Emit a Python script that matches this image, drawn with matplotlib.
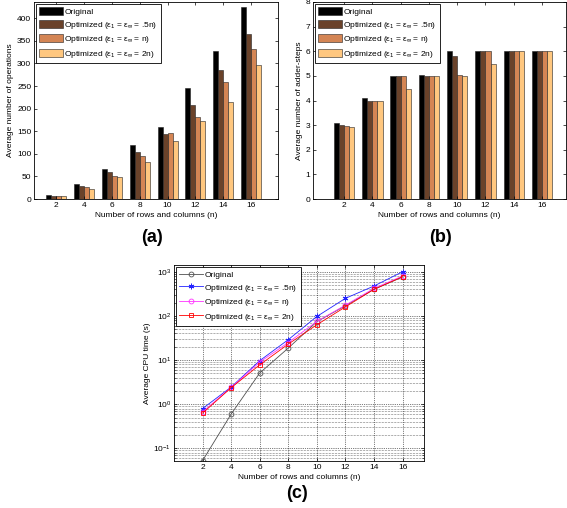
import matplotlib
matplotlib.use('Agg')
import matplotlib.pyplot as plt
import numpy as np

plt.rcParams['font.family'] = ['Liberation Sans', 'DejaVu Sans']
plt.rcParams['mathtext.fontset'] = 'custom'
plt.rcParams['mathtext.rm'] = 'Liberation Sans'
plt.rcParams['mathtext.it'] = 'Liberation Sans'

sizes = [2, 4, 6, 8, 10, 12, 14, 16]
series = ['Original',
          r'Optimized ($\varepsilon_1$ = $\varepsilon_\infty$ = .5n)',
          r'Optimized ($\varepsilon_1$ = $\varepsilon_\infty$ = n)',
          r'Optimized ($\varepsilon_1$ = $\varepsilon_\infty$ = 2n)']

# (a) average number of operations
ops_orig = [9, 33, 66, 119, 160, 245, 328, 425]
ops_half = [7, 29, 59, 104, 144, 207, 285, 366]
ops_one = [6, 27, 52, 95, 146, 181, 258, 333]
ops_two = [6, 23, 48, 82, 129, 172, 214, 296]

# (b) average number of adder-steps
steps_orig = [3.1, 4.1, 5.0, 5.05, 6.0, 6.0, 6.0, 6.02]
steps_half = [3.0, 4.0, 5.0, 5.0, 5.8, 6.0, 6.0, 6.0]
steps_one = [2.98, 4.0, 5.0, 5.0, 5.02, 6.0, 6.0, 6.0]
steps_two = [2.93, 4.0, 4.45, 5.0, 5.0, 5.5, 6.0, 6.0]

# (c) average CPU time (s)
cpu_orig = [0.053, 0.6, 5.1, 18.7, 74, 170, 400, 760]
cpu_half = [0.8, 2.45, 9.7, 29, 97, 250, 475, 1000]
cpu_one = [0.67, 2.4, 9.0, 25, 75, 175, 420, 800]
cpu_two = [0.63, 2.37, 7.8, 23, 63, 160, 400, 770]

copper = ['#000000', '#6a422a', '#d48554', '#ffc77f']
fs = 6

fig = plt.figure(figsize=(5.67, 5.08), dpi=100)


def style(ax):
    ax.tick_params(direction='in', length=2.5, width=0.5, labelsize=fs, pad=2,
                   top=True, right=True)
    ax.tick_params(which='minor', direction='in', length=1.5, width=0.4, top=True, right=True)
    for s in ax.spines.values():
        s.set_linewidth(0.6)


def legend(ax):
    leg = ax.legend(loc='upper left', fontsize=fs, frameon=True, fancybox=False,
                    edgecolor='black', framealpha=1, handlelength=2.8,
                    handleheight=1.1, labelspacing=0.42, borderpad=0.4,
                    handletextpad=0.2, borderaxespad=0.25)
    leg.get_frame().set_linewidth(0.6)


def bars(ax, data, ylim, ylabel, yticks, xlim):
    x = np.arange(1, len(sizes) + 1)
    w = 0.18
    for k, vals in enumerate(data):
        ax.bar(x + (k - 1.5) * w, vals, width=w, color=copper[k], edgecolor='#222222',
               linewidth=0.4, label=series[k])
    ax.set_xticks(x)
    ax.set_xticklabels([str(s) for s in sizes])
    ax.set_xlim(*xlim)
    ax.set_ylim(*ylim)
    ax.set_yticks(yticks)
    ax.set_xlabel('Number of rows and columns (n)', fontsize=fs, labelpad=2)
    ax.set_ylabel(ylabel, fontsize=fs, labelpad=2)
    style(ax)
    legend(ax)


axa = fig.add_axes([34 / 567, 1 - 199 / 508, 244 / 567, 197 / 508])
bars(axa, [ops_orig, ops_half, ops_one, ops_two], (0, 436),
     'Average number of operations', range(0, 401, 50), (0.2, 8.97))

axb = fig.add_axes([313 / 567, 1 - 199 / 508, 253 / 567, 197 / 508])
bars(axb, [steps_orig, steps_half, steps_one, steps_two], (0, 8),
     'Average number of adder-steps', range(0, 9), (-0.1, 8.85))

axc = fig.add_axes([174 / 567, 1 - 461 / 508, 250 / 567, 196 / 508])
axc.set_yscale('log')
axc.plot(sizes, cpu_orig, color='#505050', lw=0.6, marker='o', ms=3.5, mfc='none',
         mew=0.6, label=series[0])
axc.plot(sizes, cpu_half, color='#2222ff', lw=0.6, marker=(6, 2, 0), ms=4,
         mew=0.7, label=series[1])
axc.plot(sizes, cpu_one, color='#ff33ff', lw=0.6, marker='o', ms=3.5, mfc='none',
         mew=0.6, label=series[2])
axc.plot(sizes, cpu_two, color='#ff0000', lw=0.6, marker='s', ms=3.5, mfc='none',
         mew=0.6, label=series[3])
axc.set_xlim(0, 17.5)
axc.set_ylim(0.052, 1420)
axc.set_xticks(sizes)
axc.grid(True, which='major', axis='both', linestyle=':', color='black', lw=0.5)
axc.grid(True, which='minor', axis='y', linestyle=':', color='black', lw=0.4)
axc.set_xlabel('Number of rows and columns (n)', fontsize=fs, labelpad=2)
axc.set_ylabel('Average CPU time (s)', fontsize=fs, labelpad=2)
style(axc)
legend(axc)

for txt, x, y in [('(a)', 152, 237), ('(b)', 440, 237), ('(c)', 297, 493)]:
    fig.text(x / 567, 1 - y / 508, txt, fontsize=13, fontweight='bold',
             ha='center', va='center')

fig.savefig('out.png', dpi=100)
